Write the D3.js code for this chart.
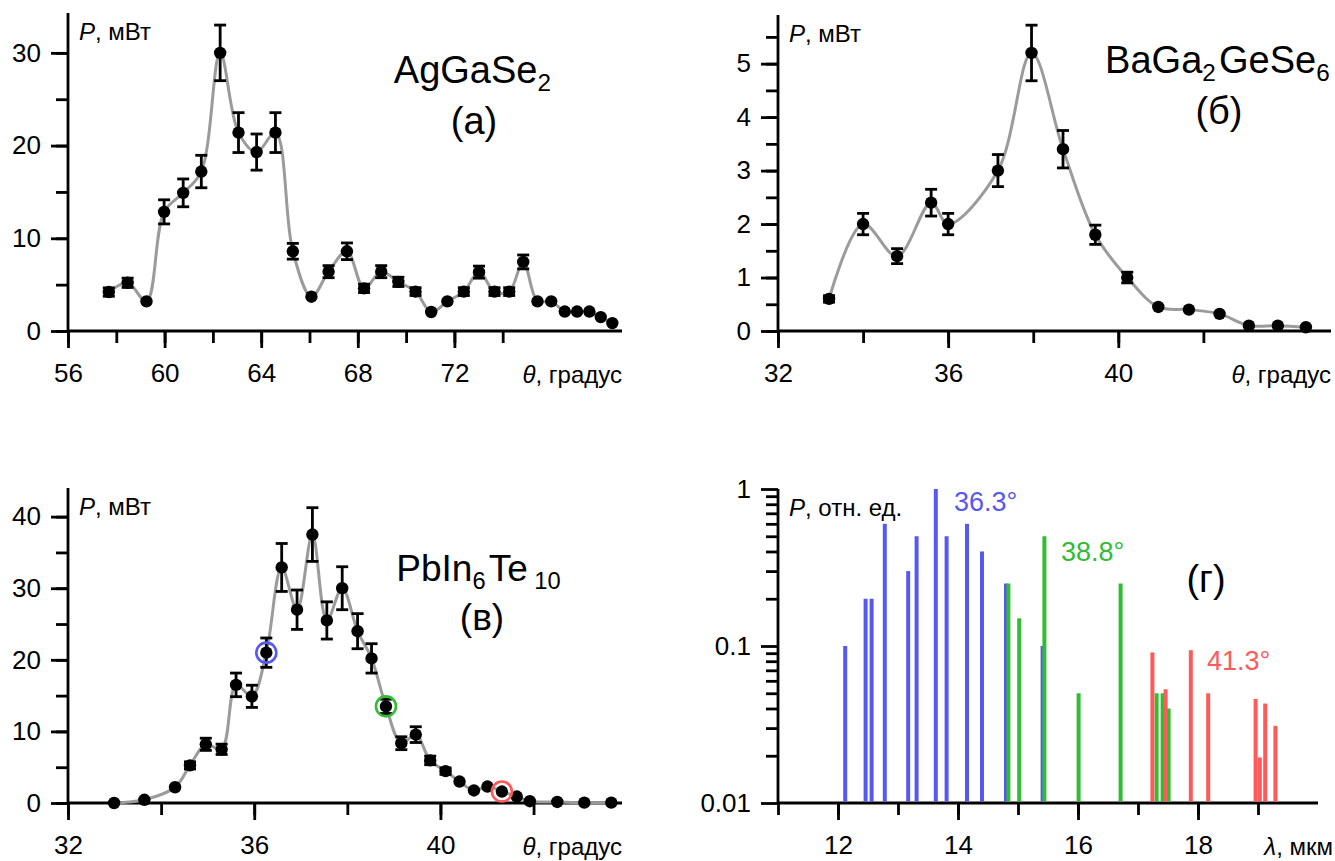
<!DOCTYPE html>
<html>
<head>
<meta charset="utf-8">
<script src="https://cdn.jsdelivr.net/npm/d3@7"></script>
<style>
  body { margin: 0; background: #fff; }
  text { font-family: "Liberation Sans", Arial, sans-serif; }
</style>
</head>
<body>
<div id="chart"></div>
<script>
// (а) AgGaSe2
const thetaA = [57.69, 58.47, 59.25, 59.98, 60.77, 61.52, 62.30, 63.06, 63.81, 64.59, 65.31, 66.08,
  66.79, 67.55, 68.26, 68.97, 69.68, 70.39, 71.04, 71.71, 72.39, 73.02, 73.66, 74.27, 74.85, 75.44,
  76.01, 76.57, 77.08, 77.59, 78.06, 78.54];
const powerA = [4.2, 5.2, 3.2, 12.85, 14.9, 17.2, 30, 21.4, 19.3, 21.4, 8.6, 3.7, 6.4, 8.6, 4.6, 6.4,
  5.3, 4.25, 2.05, 3.2, 4.25, 6.35, 4.25, 4.25, 7.45, 3.2, 3.2, 2.1, 2.1, 2.1, 1.5, 0.85];
const errA = [0.45, 0.5, 0, 1.3, 1.5, 1.75, 3, 2.15, 1.95, 2.15, 0.85, 0, 0.65, 0.9, 0.45, 0.65,
  0.5, 0.42, 0, 0, 0.42, 0.65, 0.42, 0.42, 0.75, 0, 0, 0, 0, 0, 0, 0];

// (б) BaGa2GeSe6
const thetaB = [33.20, 34.0, 34.80, 35.60, 36.0, 37.17, 37.96, 38.70, 39.46, 40.21, 40.94, 41.66,
  42.38, 43.07, 43.75, 44.41];
const powerB = [0.6, 2.0, 1.4, 2.4, 2.0, 3.0, 5.2, 3.4, 1.8, 1.0, 0.45, 0.4, 0.32, 0.1, 0.1, 0.07];
const errB = [0.06, 0.2, 0.14, 0.25, 0.2, 0.3, 0.52, 0.35, 0.18, 0.1, 0, 0, 0, 0, 0, 0];

// (в) PbIn6Te10
const thetaC = [32.99, 33.64, 34.30, 34.62, 34.96, 35.30, 35.61, 35.95, 36.26, 36.59, 36.92, 37.25,
  37.56, 37.89, 38.22, 38.52, 38.83, 39.16, 39.47, 39.78, 40.11, 40.41, 40.72, 41.01, 41.32, 41.64,
  41.92, 42.51, 43.09, 43.67];
const powerC = [0, 0.45, 2.2, 5.25, 8.2, 7.5, 16.5, 14.9, 21, 32.9, 27, 37.5, 25.5, 30, 24, 20.2,
  13.5, 8.35, 9.55, 5.95, 4.45, 3.0, 1.75, 2.3, 1.6, 0.9, 0.25, 0.15, 0.05, 0.05];
const errC = [0, 0, 0, 0.5, 0.85, 0.72, 1.65, 1.55, 2.05, 3.35, 2.75, 3.75, 2.6, 3.0, 2.45, 2.05,
  1.0, 0.9, 1.1, 0.6, 0.45, 0, 0, 0, 0, 0, 0, 0, 0, 0];
const markedIdx = [8, 16, 24];            // points at 36.3, 38.8, 41.3 deg

// (г) spectra, relative units
const angleLabels = ['36.3°', '38.8°', '41.3°'];
const lambda363 = [12.12, 12.46, 12.56, 12.78, 13.17, 13.31, 13.63, 13.81, 14.15, 14.40, 14.80, 15.41];
const rel363 = [0.1, 0.2, 0.2, 0.6, 0.3, 0.5, 1.0, 0.5, 0.6, 0.4, 0.25, 0.1];
const lambda388 = [14.84, 15.02, 15.44, 16.01, 16.71, 17.31, 17.41, 17.51];
const rel388 = [0.25, 0.15, 0.5, 0.05, 0.25, 0.05, 0.05, 0.04];
const lambda413 = [17.24, 17.46, 17.88, 18.17, 18.96, 19.03, 19.12, 19.29];
const rel413 = [0.091, 0.053, 0.094, 0.05, 0.046, 0.0195, 0.043, 0.031];

const colors = ['#5757f2', '#33bb33', '#ff5a5a'];

const width = 1335, height = 861;
const svg = d3.select('#chart').append('svg')
  .attr('width', width)
  .attr('height', height);

const majorLen = 17, minorLen = 12, axisW = 2.8;

// axes: major ticks with labels, minor ticks without
function drawAxes(x, y, o) {
  const g = svg.append('g');
  const x0 = x.range()[0], y0 = y.range()[0];

  g.append('g')
    .attr('transform', `translate(0,${y0})`)
    .call(d3.axisBottom(x).tickValues(o.xMinor).tickSize(minorLen).tickFormat(''));
  g.append('g')
    .attr('transform', `translate(0,${y0})`)
    .call(d3.axisBottom(x).tickValues(o.xMajor).tickSize(majorLen).tickPadding(16).tickFormat(d3.format('d')));
  g.append('g')
    .attr('transform', `translate(${x0},0)`)
    .call(d3.axisLeft(y).tickValues(o.yMinor).tickSize(minorLen).tickFormat(''));
  g.append('g')
    .attr('transform', `translate(${x0},0)`)
    .call(d3.axisLeft(y).tickValues(o.yMajor).tickSize(majorLen).tickPadding(10).tickFormat(o.yFormat || d3.format('d')));

  g.selectAll('.domain').remove();
  g.selectAll('.tick line').attr('stroke', '#000').attr('stroke-width', axisW);
  g.selectAll('.tick text')
    .attr('fill', '#000')
    .attr('font-size', '26px')
    .attr('font-family', '"Liberation Sans", Arial, sans-serif');

  g.append('line')
    .attr('x1', x0).attr('x2', x.range()[1])
    .attr('y1', y0).attr('y2', y0)
    .attr('stroke', '#000').attr('stroke-width', axisW);
  g.append('line')
    .attr('x1', x0).attr('x2', x0)
    .attr('y1', y0).attr('y2', y.range()[1])
    .attr('stroke', '#000').attr('stroke-width', axisW);

  // y title
  const yt = g.append('text')
    .attr('x', x0 + 11).attr('y', y.range()[1] + 27)
    .attr('font-size', '24px');
  yt.append('tspan').attr('font-style', 'italic').text('P');
  yt.append('tspan').text(o.yUnit);

  // x title
  const xt = g.append('text')
    .attr('x', o.xTitleEnd).attr('y', y0 + 52)
    .attr('text-anchor', 'end')
    .attr('font-size', '24px');
  xt.append('tspan').attr('font-style', 'italic').text(o.xSym);
  xt.append('tspan').text(o.xUnit);
}

function formula(x, y, parts, size) {
  const t = svg.append('text')
    .attr('x', x).attr('y', y)
    .attr('text-anchor', 'middle')
    .attr('font-size', size + 'px');
  parts.forEach(p => {
    if (p.sub) {
      t.append('tspan').attr('font-size', (size * 0.64) + 'px').attr('dy', size * 0.22).text(p.sub);
      t.append('tspan').attr('dy', -size * 0.22).text('\u200a');
    } else {
      t.append('tspan').text(p.t);
    }
  });
  return t;
}

function drawScan(x, y, theta, power, err) {
  const pts = theta.map((t, i) => ({ t, p: power[i], e: err[i] }));
  const line = d3.line()
    .x(d => x(d.t)).y(d => y(d.p))
    .curve(d3.curveCatmullRom.alpha(0.5));

  svg.append('path')
    .datum(pts)
    .attr('d', line)
    .attr('fill', 'none')
    .attr('stroke', '#9b9b9b')
    .attr('stroke-width', 3);

  const eb = svg.append('g').attr('stroke', '#000').attr('stroke-width', 2.8);
  pts.filter(d => d.e > 0).forEach(d => {
    const cx = x(d.t), yt = y(d.p + d.e), yb = y(d.p - d.e);
    eb.append('line').attr('x1', cx).attr('x2', cx).attr('y1', yt).attr('y2', yb);
    eb.append('line').attr('x1', cx - 6).attr('x2', cx + 6).attr('y1', yt).attr('y2', yt);
    eb.append('line').attr('x1', cx - 6).attr('x2', cx + 6).attr('y1', yb).attr('y2', yb);
  });

  svg.append('g').selectAll('circle')
    .data(pts)
    .join('circle')
    .attr('cx', d => x(d.t))
    .attr('cy', d => y(d.p))
    .attr('r', 6.2)
    .attr('fill', '#000');
  return pts;
}

// ---- panel (а)
const xA = d3.scaleLinear().domain([56, 78.94]).range([68, 622]);
const yA = d3.scaleLinear().domain([0, 34.3]).range([331, 13]);
drawAxes(xA, yA, {
  xMajor: [56, 60, 64, 68, 72], xMinor: d3.range(56, 75, 2),
  yMajor: [0, 10, 20, 30], yMinor: d3.range(0, 31, 5),
  yUnit: ', мВт', xSym: 'θ', xUnit: ', градус', xTitleEnd: 622
});
drawScan(xA, yA, thetaA, powerA, errA);
formula(474, 83, [{ t: 'AgGaSe' }, { sub: '2' }], 38);
formula(474, 134, [{ t: '(а)' }], 38);

// ---- panel (б)
const xB = d3.scaleLinear().domain([32, 45]).range([778, 1331]);
const yB = d3.scaleLinear().domain([0, 5.91]).range([331, 15]);
drawAxes(xB, yB, {
  xMajor: [32, 36, 40], xMinor: d3.range(32, 43, 2),
  yMajor: [0, 1, 2, 3, 4, 5], yMinor: d3.range(0, 5.6, 0.5),
  yUnit: ', мВт', xSym: 'θ', xUnit: ', градус', xTitleEnd: 1331
});
drawScan(xB, yB, thetaB, powerB, errB);
formula(1219, 73, [{ t: 'BaGa' }, { sub: '2' }, { t: 'GeSe' }, { sub: '6' }], 38);
formula(1219, 124, [{ t: '(б)' }], 38);

// ---- panel (в)
const xC = d3.scaleLinear().domain([32, 43.9]).range([68, 622]);
const yC = d3.scaleLinear().domain([0, 44]).range([803, 488]);
drawAxes(xC, yC, {
  xMajor: [32, 36, 40], xMinor: d3.range(32, 43, 2),
  yMajor: [0, 10, 20, 30, 40], yMinor: d3.range(0, 41, 5),
  yUnit: ', мВт', xSym: 'θ', xUnit: ', градус', xTitleEnd: 622
});
const ptsC = drawScan(xC, yC, thetaC, powerC, errC);
svg.append('g').selectAll('circle')
  .data(markedIdx)
  .join('circle')
  .attr('cx', i => xC(ptsC[i].t))
  .attr('cy', i => yC(ptsC[i].p))
  .attr('r', 10)
  .attr('fill', 'none')
  .attr('stroke', (i, k) => colors[k])
  .attr('stroke-width', 2.6);
formula(480, 581, [{ t: 'PbIn' }, { sub: '6' }, { t: 'Te' }, { sub: ' 10' }], 37);
formula(482, 630, [{ t: '(в)' }], 37);

// ---- panel (г)
const xD = d3.scaleLinear().domain([11, 20]).range([778, 1318]);
const yD = d3.scaleLog().domain([0.01, 1]).range([803, 489]);
const logMinor = [];
[0.01, 0.1].forEach(b => d3.range(2, 10).forEach(k => logMinor.push(b * k)));
drawAxes(xD, yD, {
  xMajor: [12, 14, 16, 18], xMinor: d3.range(11, 20, 1),
  yMajor: [0.01, 0.1, 1], yMinor: logMinor,
  yFormat: d => d === 1 ? '1' : String(d),
  yUnit: ', отн. ед.', xSym: 'λ', xUnit: ', мкм', xTitleEnd: 1333
});

const spectra = [
  { lam: lambda363, rel: rel363 },
  { lam: lambda388, rel: rel388 },
  { lam: lambda413, rel: rel413 }
];
const barW = 4;
spectra.forEach((s, k) => {
  svg.append('g').selectAll('rect')
    .data(s.lam.map((l, i) => ({ l, v: s.rel[i] })))
    .join('rect')
    .attr('x', d => xD(d.l) - barW / 2)
    .attr('y', d => yD(d.v))
    .attr('width', barW)
    .attr('height', d => yD(0.01) - yD(d.v) - axisW / 2)
    .attr('fill', colors[k]);
});

const labelPos = [[954, 511], [1061, 561], [1207, 670]];
angleLabels.forEach((s, k) => {
  svg.append('text')
    .attr('x', labelPos[k][0]).attr('y', labelPos[k][1])
    .attr('font-size', '27px')
    .attr('fill', colors[k])
    .text(s);
});
formula(1206, 592, [{ t: '(г)' }], 38);
</script>
</body>
</html>
